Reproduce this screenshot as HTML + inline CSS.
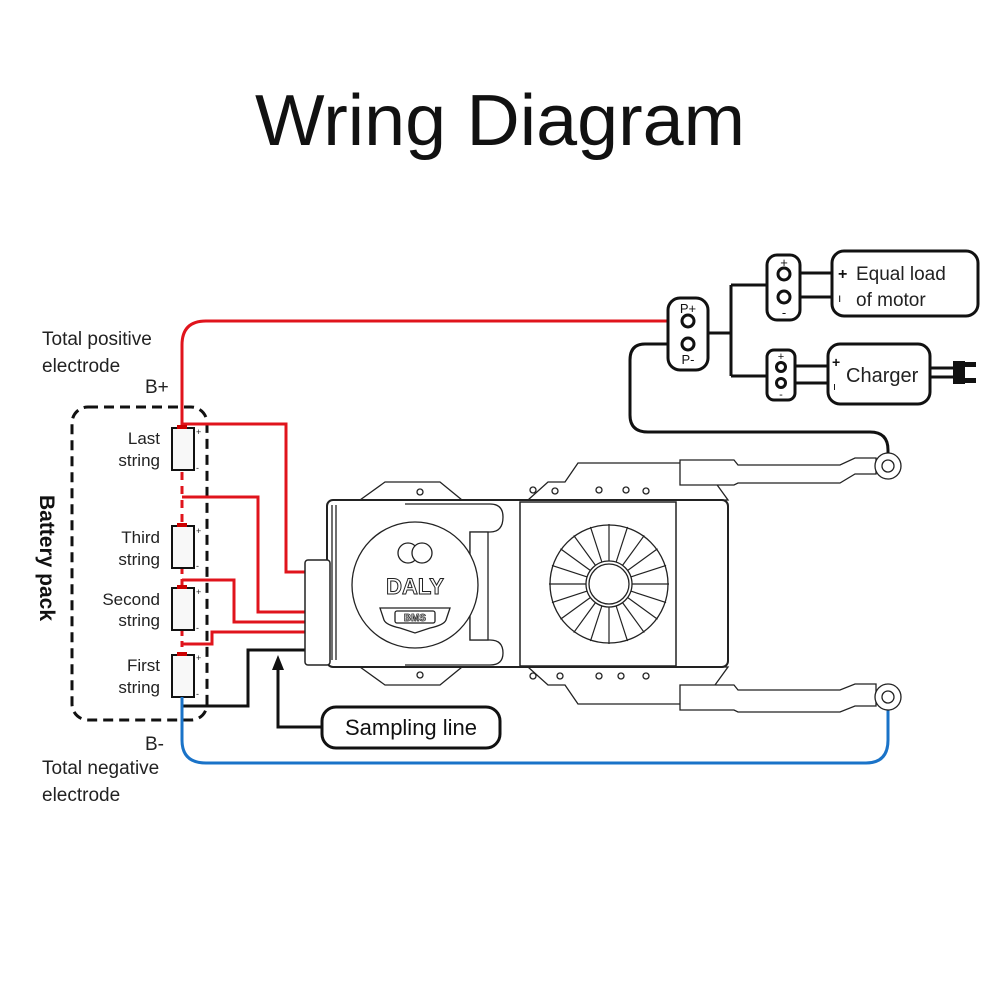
<!DOCTYPE html>
<html><head><meta charset="utf-8"><style>
html,body{margin:0;padding:0;background:#fff;}
svg{display:block;font-family:"Liberation Sans",sans-serif;}
</style></head><body>
<svg width="1000" height="1000" viewBox="0 0 1000 1000" xmlns="http://www.w3.org/2000/svg">
<defs>
<line id="bl" x1="0" y1="-23" x2="0" y2="-60" stroke="#222" stroke-width="1.2"/>
</defs>
<text x="500" y="145" text-anchor="middle" font-size="72" textLength="490" lengthAdjust="spacingAndGlyphs" fill="#111">Wring Diagram</text>

<!-- battery pack -->
<rect x="72" y="407" width="135" height="313" rx="16" fill="none" stroke="#111" stroke-width="3" stroke-dasharray="10,6"/>
<text transform="translate(40,558) rotate(90)" text-anchor="middle" font-size="21" font-weight="bold" fill="#111">Battery pack</text>
<g font-size="17" fill="#222" text-anchor="end">
<text x="160" y="444">Last</text><text x="160" y="466">string</text>
<text x="160" y="543">Third</text><text x="160" y="565">string</text>
<text x="160" y="605">Second</text><text x="160" y="626">string</text>
<text x="160" y="671">First</text><text x="160" y="693">string</text>
</g>
<g font-size="19" fill="#222">
<text x="42" y="345">Total positive</text><text x="42" y="372">electrode</text>
<text x="145" y="393">B+</text>
<text x="145" y="750">B-</text>
<text x="42" y="774">Total negative</text><text x="42" y="801">electrode</text>
</g>

<!-- red wires -->
<g fill="none" stroke="#e0141c" stroke-width="3">
<path d="M182 428 V345 Q182 321 206 321 H682"/>
<path d="M182 472 V525" stroke-dasharray="8,6"/>
<path d="M182 568 V588" stroke-dasharray="6,5"/>
<path d="M182 630 V655" stroke-dasharray="6,5"/>
<path d="M182 424 H286 V572 H305"/>
<path d="M182 497 H258 V612 H305"/>
<path d="M182 580 H234 V622 H305"/>
<path d="M182 644 H212 V632 H305"/>
</g>
<g fill="#f8f8f8" stroke="#111" stroke-width="2">
<rect x="172" y="428" width="22" height="42"/>
<rect x="172" y="526" width="22" height="42"/>
<rect x="172" y="588" width="22" height="42"/>
<rect x="172" y="655" width="22" height="42"/>
</g>
<g fill="#c00"><rect x="177" y="425" width="10" height="4"/><rect x="177" y="523" width="10" height="4"/><rect x="177" y="585" width="10" height="4"/><rect x="177" y="652" width="10" height="4"/></g>
<g font-size="9" fill="#222"><text x="196" y="435">+</text><text x="196" y="471">-</text><text x="196" y="534">+</text><text x="196" y="569">-</text><text x="196" y="595">+</text><text x="196" y="631">-</text><text x="196" y="661">+</text><text x="196" y="697">-</text></g>

<!-- black sampling + blue -->
<path d="M182 706 H248 V650 H305" fill="none" stroke="#111" stroke-width="3"/>
<path d="M182 697 V740 Q182 763 206 763 H866 Q888 763 888 740 V708" fill="none" stroke="#1a73c8" stroke-width="3"/>
<path d="M278 668 V727 H322" fill="none" stroke="#111" stroke-width="3"/>
<polygon points="278,655 272,670 284,670" fill="#111"/>
<rect x="322" y="707" width="178" height="41" rx="14" fill="#fff" stroke="#111" stroke-width="3"/>
<text x="411" y="735" text-anchor="middle" font-size="22" fill="#111">Sampling line</text>

<!-- BMS -->
<g fill="#fff" stroke="#222" stroke-width="1.3">
<path d="M360 500 L385 482 H440 L462 500 Z"/><path d="M360 667 L385 685 H440 L462 667 Z"/>
<path d="M528 500 L548 482 H565 L578 463 H700 L715 482 L728 500 Z"/>
<path d="M528 667 L548 685 H565 L578 704 H700 L715 685 L728 667 Z"/>
<circle cx="420" cy="492" r="3"/><circle cx="420" cy="675" r="3"/>
<circle cx="555" cy="491" r="3"/><circle cx="646" cy="491" r="3"/><circle cx="560" cy="676" r="3"/><circle cx="646" cy="676" r="3"/>
<circle cx="533" cy="490" r="3"/><circle cx="599" cy="490" r="3"/><circle cx="626" cy="490" r="3"/><circle cx="621" cy="676" r="3"/><circle cx="533" cy="676" r="3"/><circle cx="599" cy="676" r="3"/>
<!-- cables -->
<path d="M680 460 H734 L738 465 H840 L855 458 H876 V474 H855 L840 483 H738 L734 485 H680 Z"/>
<circle cx="888" cy="466" r="13"/><circle cx="888" cy="466" r="6"/>
<path d="M680 685 H734 L738 690 H840 L855 684 H876 V706 H855 L840 712 H738 L734 710 H680 Z"/>
<circle cx="888" cy="697" r="13"/><circle cx="888" cy="697" r="6"/>
<rect x="327" y="500" width="401" height="167" rx="6" stroke-width="2"/>
<rect x="305" y="560" width="25" height="105" rx="3" stroke-width="1.5"/>
<path d="M332 505 V660" /><path d="M336 505 V660"/>
<path d="M405 504 H490 Q503 504 503 517 Q503 532 490 532 H470 V640 H490 Q503 640 503 653 Q503 665 490 665 H405"/>
<rect x="470" y="532" width="18" height="108"/>
<circle cx="415" cy="585" r="63"/>
<rect x="520" y="502" width="156" height="164" stroke-width="1.5"/>
<circle cx="609" cy="584" r="59"/>
<circle cx="609" cy="584" r="23"/><circle cx="609" cy="584" r="20"/>
<circle cx="408" cy="553" r="10"/><circle cx="422" cy="553" r="10"/>
<path d="M380 608 H450 L446 620 Q444 625 430 628 L415 633 L400 628 Q386 625 384 620 Z"/>
<rect x="395" y="611" width="40" height="12" rx="2"/>
</g>
<g transform="translate(609,584)">
<use href="#bl" transform="rotate(0)"/><use href="#bl" transform="rotate(18)"/><use href="#bl" transform="rotate(36)"/><use href="#bl" transform="rotate(54)"/><use href="#bl" transform="rotate(72)"/><use href="#bl" transform="rotate(90)"/><use href="#bl" transform="rotate(108)"/><use href="#bl" transform="rotate(126)"/><use href="#bl" transform="rotate(144)"/><use href="#bl" transform="rotate(162)"/><use href="#bl" transform="rotate(180)"/><use href="#bl" transform="rotate(198)"/><use href="#bl" transform="rotate(216)"/><use href="#bl" transform="rotate(234)"/><use href="#bl" transform="rotate(252)"/><use href="#bl" transform="rotate(270)"/><use href="#bl" transform="rotate(288)"/><use href="#bl" transform="rotate(306)"/><use href="#bl" transform="rotate(324)"/><use href="#bl" transform="rotate(342)"/>
</g>
<text x="415" y="594" text-anchor="middle" font-size="22" fill="#fff" stroke="#222" stroke-width="1" font-weight="bold">DALY</text>
<text x="415" y="621" text-anchor="middle" font-size="10" fill="#fff" stroke="#222" stroke-width="0.7" font-weight="bold">BMS</text>

<!-- P- wire -->
<path d="M682 344 H645 Q630 344 630 360 V415 Q630 432 648 432 H870 Q888 432 888 450 V453" fill="none" stroke="#111" stroke-width="3"/>
<!-- right side -->
<g fill="none" stroke="#111" stroke-width="3">
<path d="M708 333 H731 M731 285 V376 M731 285 H767 M731 376 H767"/>
<path d="M785 273 H834 M785 297 H834"/>
<path d="M781 366 H828 M781 383 H828"/>
<path d="M930 368 H955 M930 377 H955"/>
</g>
<rect x="668" y="298" width="40" height="72" rx="12" fill="#fff" stroke="#111" stroke-width="3"/>
<circle cx="688" cy="321" r="6" fill="#fff" stroke="#111" stroke-width="3"/>
<circle cx="688" cy="344" r="6" fill="#fff" stroke="#111" stroke-width="3"/>
<text x="688" y="313" text-anchor="middle" font-size="13" fill="#111">P+</text>
<text x="688" y="364" text-anchor="middle" font-size="13" fill="#111">P-</text>
<rect x="767" y="255" width="33" height="65" rx="10" fill="#fff" stroke="#111" stroke-width="3"/>
<circle cx="784" cy="274" r="6" fill="#fff" stroke="#111" stroke-width="3"/>
<circle cx="784" cy="297" r="6" fill="#fff" stroke="#111" stroke-width="3"/>
<text x="784" y="267" text-anchor="middle" font-size="13" fill="#111">+</text>
<text x="784" y="317" text-anchor="middle" font-size="13" fill="#111">-</text>
<rect x="767" y="350" width="28" height="50" rx="7" fill="#fff" stroke="#111" stroke-width="3"/>
<circle cx="781" cy="367" r="4.5" fill="#fff" stroke="#111" stroke-width="3"/>
<circle cx="781" cy="383" r="4.5" fill="#fff" stroke="#111" stroke-width="3"/>
<text x="781" y="360" text-anchor="middle" font-size="11" fill="#111">+</text>
<text x="781" y="398" text-anchor="middle" font-size="11" fill="#111">-</text>
<rect x="832" y="251" width="146" height="65" rx="12" fill="#fff" stroke="#111" stroke-width="3"/>
<text x="838" y="279" font-size="16" font-weight="bold" fill="#111">+</text>
<text x="838" y="302" font-size="12" fill="#111">ı</text>
<text x="856" y="280" font-size="19" fill="#222">Equal load</text>
<text x="856" y="306" font-size="19" fill="#222">of motor</text>
<rect x="828" y="344" width="102" height="60" rx="12" fill="#fff" stroke="#111" stroke-width="3"/>
<text x="832" y="367" font-size="14" font-weight="bold" fill="#111">+</text>
<text x="833" y="390" font-size="11" fill="#111">ı</text>
<text x="846" y="382" font-size="20" fill="#222">Charger</text>
<rect x="953" y="361" width="12" height="23" fill="#111"/>
<rect x="960" y="362" width="16" height="5" fill="#111"/>
<rect x="960" y="378" width="16" height="5" fill="#111"/>
</svg>
</body></html>
